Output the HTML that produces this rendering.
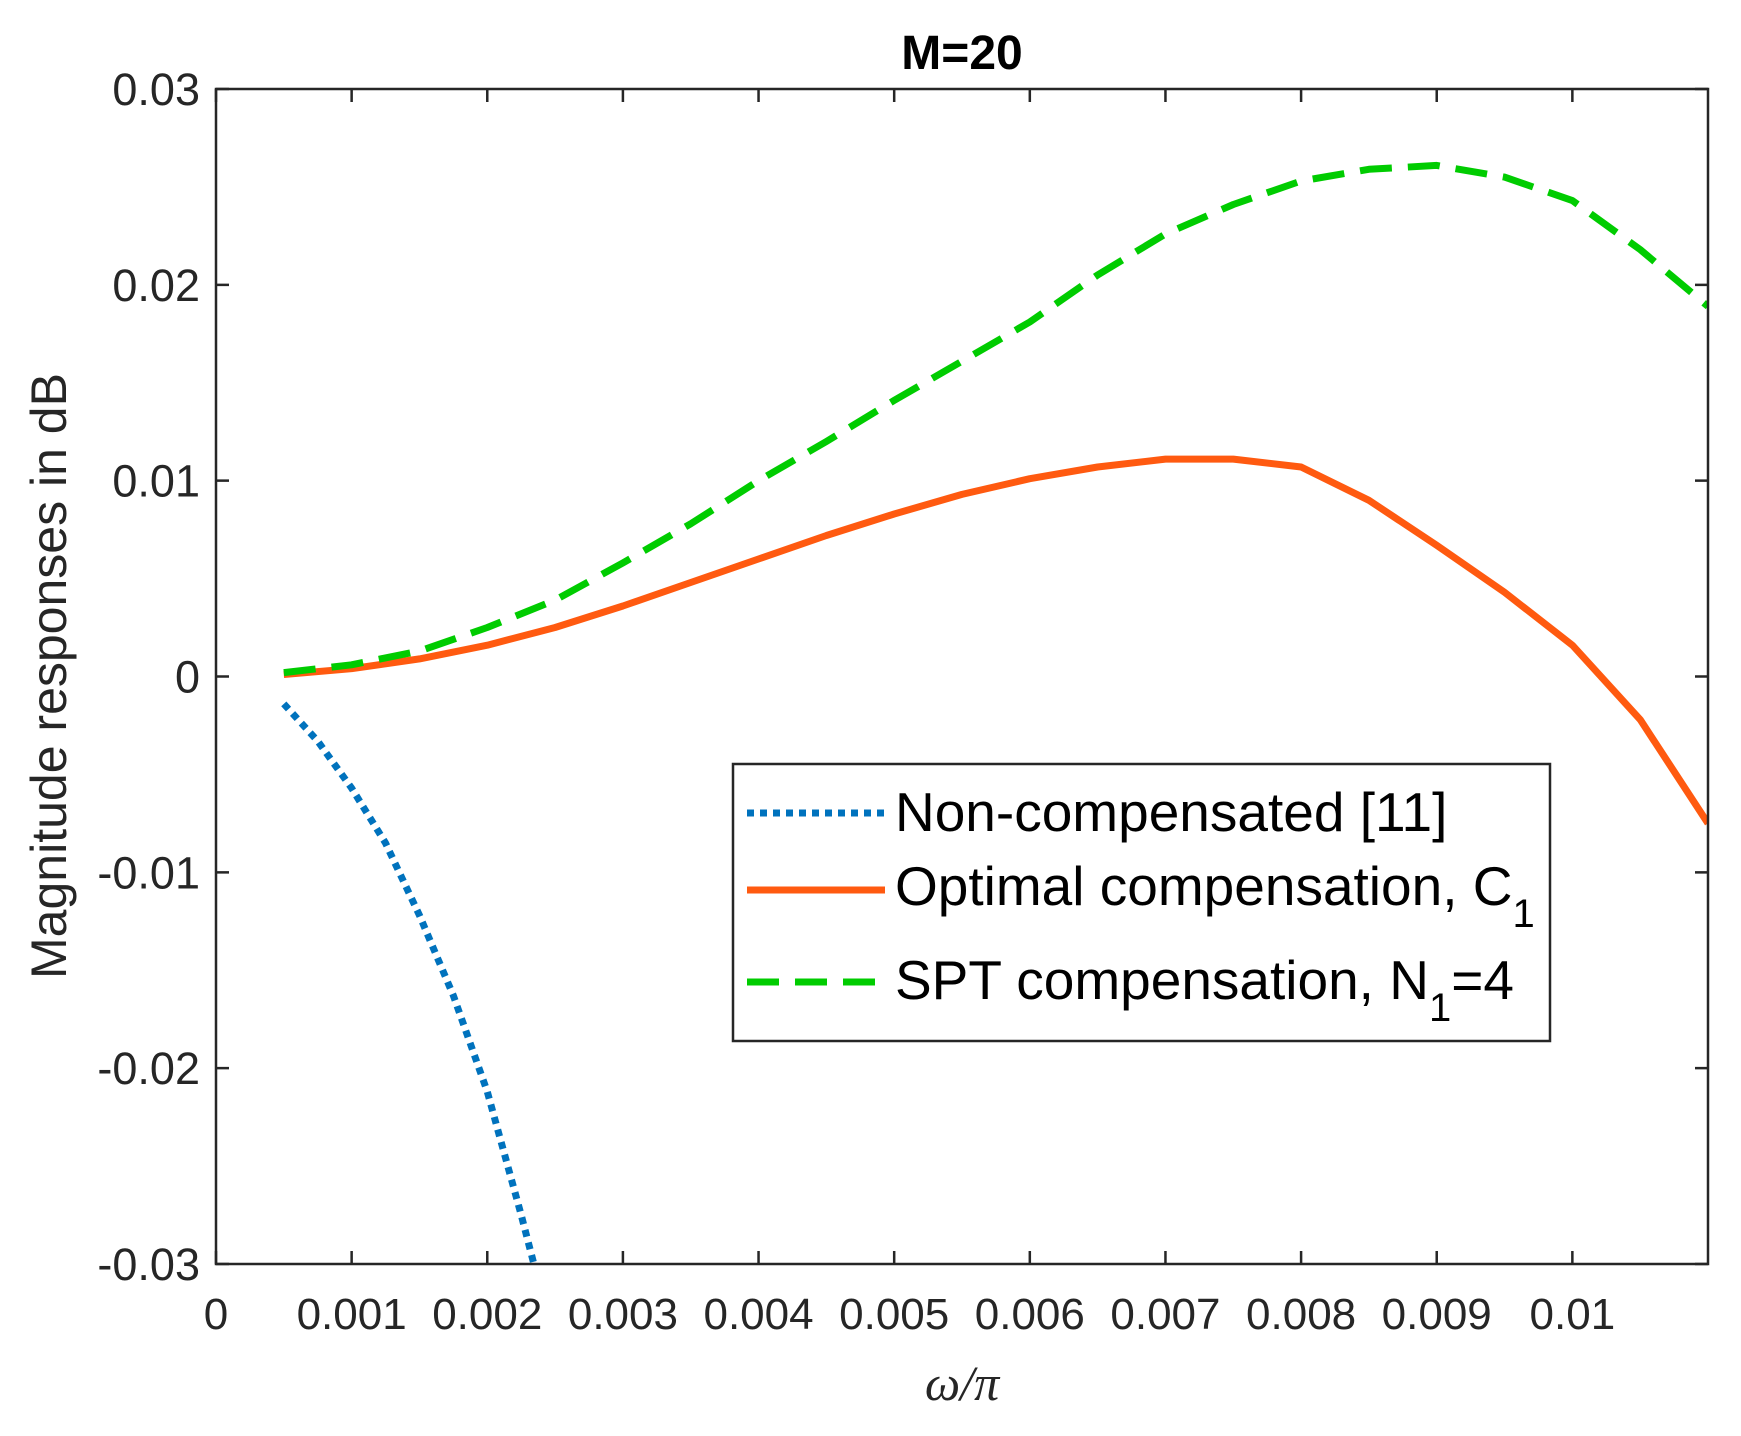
<!DOCTYPE html>
<html><head><meta charset="utf-8"><style>
html,body{margin:0;padding:0;background:#fff;}
svg{display:block;font-family:"Liberation Sans",sans-serif;}
</style></head><body>
<svg id="chart" width="1741" height="1436" viewBox="0 0 1741 1436">
<rect width="1741" height="1436" fill="#fff"/>
<g id="plot"></g>
</svg>
<script>
const xTicks=[0,0.001,0.002,0.003,0.004,0.005,0.006,0.007,0.008,0.009,0.01];
const xTickLabels=["0","0.001","0.002","0.003","0.004","0.005","0.006","0.007","0.008","0.009","0.01"];
const yTicks=[-0.03,-0.02,-0.01,0,0.01,0.02,0.03];
const yTickLabels=["-0.03","-0.02","-0.01","0","0.01","0.02","0.03"];
const xs=[0.0005,0.001,0.0015,0.002,0.0025,0.003,0.0035,0.004,0.0045,0.005,0.0055,0.006,0.0065,0.007,0.0075,0.008,0.0085,0.009,0.0095,0.010,0.0105,0.011];
const greenY=[0.0002,0.0006,0.0013,0.0025,0.0039,0.0058,0.0078,0.0100,0.0120,0.0141,0.0161,0.0181,0.0205,0.0226,0.0241,0.0253,0.0259,0.0261,0.0255,0.0243,0.0218,0.0189];
const orangeY=[0.0001,0.0004,0.0009,0.0016,0.0025,0.0036,0.0048,0.0060,0.0072,0.0083,0.0093,0.0101,0.0107,0.0111,0.0111,0.0107,0.0090,0.0067,0.0043,0.0016,-0.0022,-0.0075];
const blueX=[0.0005,0.00075,0.001,0.00125,0.0015,0.00175,0.002,0.00225,0.0024];
const blueY=[-0.0014,-0.0033,-0.0057,-0.0085,-0.0122,-0.0163,-0.0212,-0.0275,-0.0315];
const L=216,R=1708,T=89,B=1264;
const sx=v=>L+(v-0)/(0.011)*(R-L);
const sy=v=>B-(v+0.03)/0.06*(B-T);
const NS="http://www.w3.org/2000/svg";
const g=document.getElementById('plot');
function mk(tag,attrs,parent){const e=document.createElementNS(NS,tag);for(const k in attrs)e.setAttribute(k,attrs[k]);(parent||g).appendChild(e);return e;}
const defs=mk('defs',{});
const cp=mk('clipPath',{id:'clip'},defs);mk('rect',{x:L,y:T,width:R-L,height:B-T},cp);
xTicks.forEach((v,i)=>{
 const t=mk('path',{d:`M${sx(v)},${B}v-13M${sx(v)},${T}v13`,stroke:'#262626','stroke-width':2.5});
 
 
 const lb=mk('text',{x:sx(v),y:B+65,'text-anchor':'middle','font-size':44,fill:'#262626'});
 lb.textContent=xTickLabels[i];
 
 
});
yTicks.forEach((v,i)=>{
 const t=mk('path',{d:`M${L},${sy(v)}h13M${R},${sy(v)}h-13`,stroke:'#262626','stroke-width':2.5});
 
 
 const lb=mk('text',{x:L-16,y:sy(v)+16,'text-anchor':'end','font-size':45,fill:'#262626'});
 lb.textContent=yTickLabels[i];
 
 
});
function line(xa,ya,attrs,name){
 const d=xa.map((x,i)=>(i?'L':'M')+sx(x).toFixed(1)+','+sy(ya[i]).toFixed(1)).join('');
 const p=mk('path',Object.assign({d,fill:'none','clip-path':'url(#clip)','stroke-linejoin':'round'},attrs));
 
 
}
line(blueX,blueY,{stroke:'#0072BD','stroke-width':7,'stroke-dasharray':'7 6'},'non-compensated-line');
line(xs,orangeY,{stroke:'#FF5A10','stroke-width':7},'optimal-compensation-line');
line(xs,greenY,{stroke:'#00CC00','stroke-width':7,'stroke-dasharray':'32 16'},'spt-compensation-line');
const ax=mk('rect',{x:L,y:T,width:R-L,height:B-T,fill:'none',stroke:'#262626','stroke-width':2.5});


</script>
<svg style="position:absolute;left:0;top:0" width="1741" height="1436">
<text x="962" y="69" text-anchor="middle" font-size="48" font-weight="bold" fill="#000">M=20</text>
<text transform="translate(66,676) rotate(-90)" text-anchor="middle" font-size="50" fill="#262626">Magnitude responses in dB</text>
<text x="962" y="1400" text-anchor="middle" font-size="50" font-style="italic" font-family="Liberation Serif" fill="#262626">ω/π</text>
<g>
<rect x="733" y="764" width="817" height="277" fill="#fff" stroke="#262626" stroke-width="2.5"/>
<line x1="747" y1="813" x2="885" y2="813" stroke="#0072BD" stroke-width="7" stroke-dasharray="7 6"/>
<text x="895" y="831" font-size="55" fill="#000">Non-compensated [11]</text>
<line x1="747" y1="890" x2="885" y2="890" stroke="#FF5A10" stroke-width="7"/>
<text x="895" y="905" font-size="55" fill="#000">Optimal compensation, C<tspan font-size="40" dy="22">1</tspan></text>
<line x1="747" y1="982" x2="885" y2="982" stroke="#00CC00" stroke-width="7" stroke-dasharray="32 16"/>
<text x="895" y="999" font-size="55" fill="#000">SPT compensation, N<tspan font-size="40" dy="22">1</tspan><tspan dy="-22">=4</tspan></text>
</g>
</svg>
</body></html>
